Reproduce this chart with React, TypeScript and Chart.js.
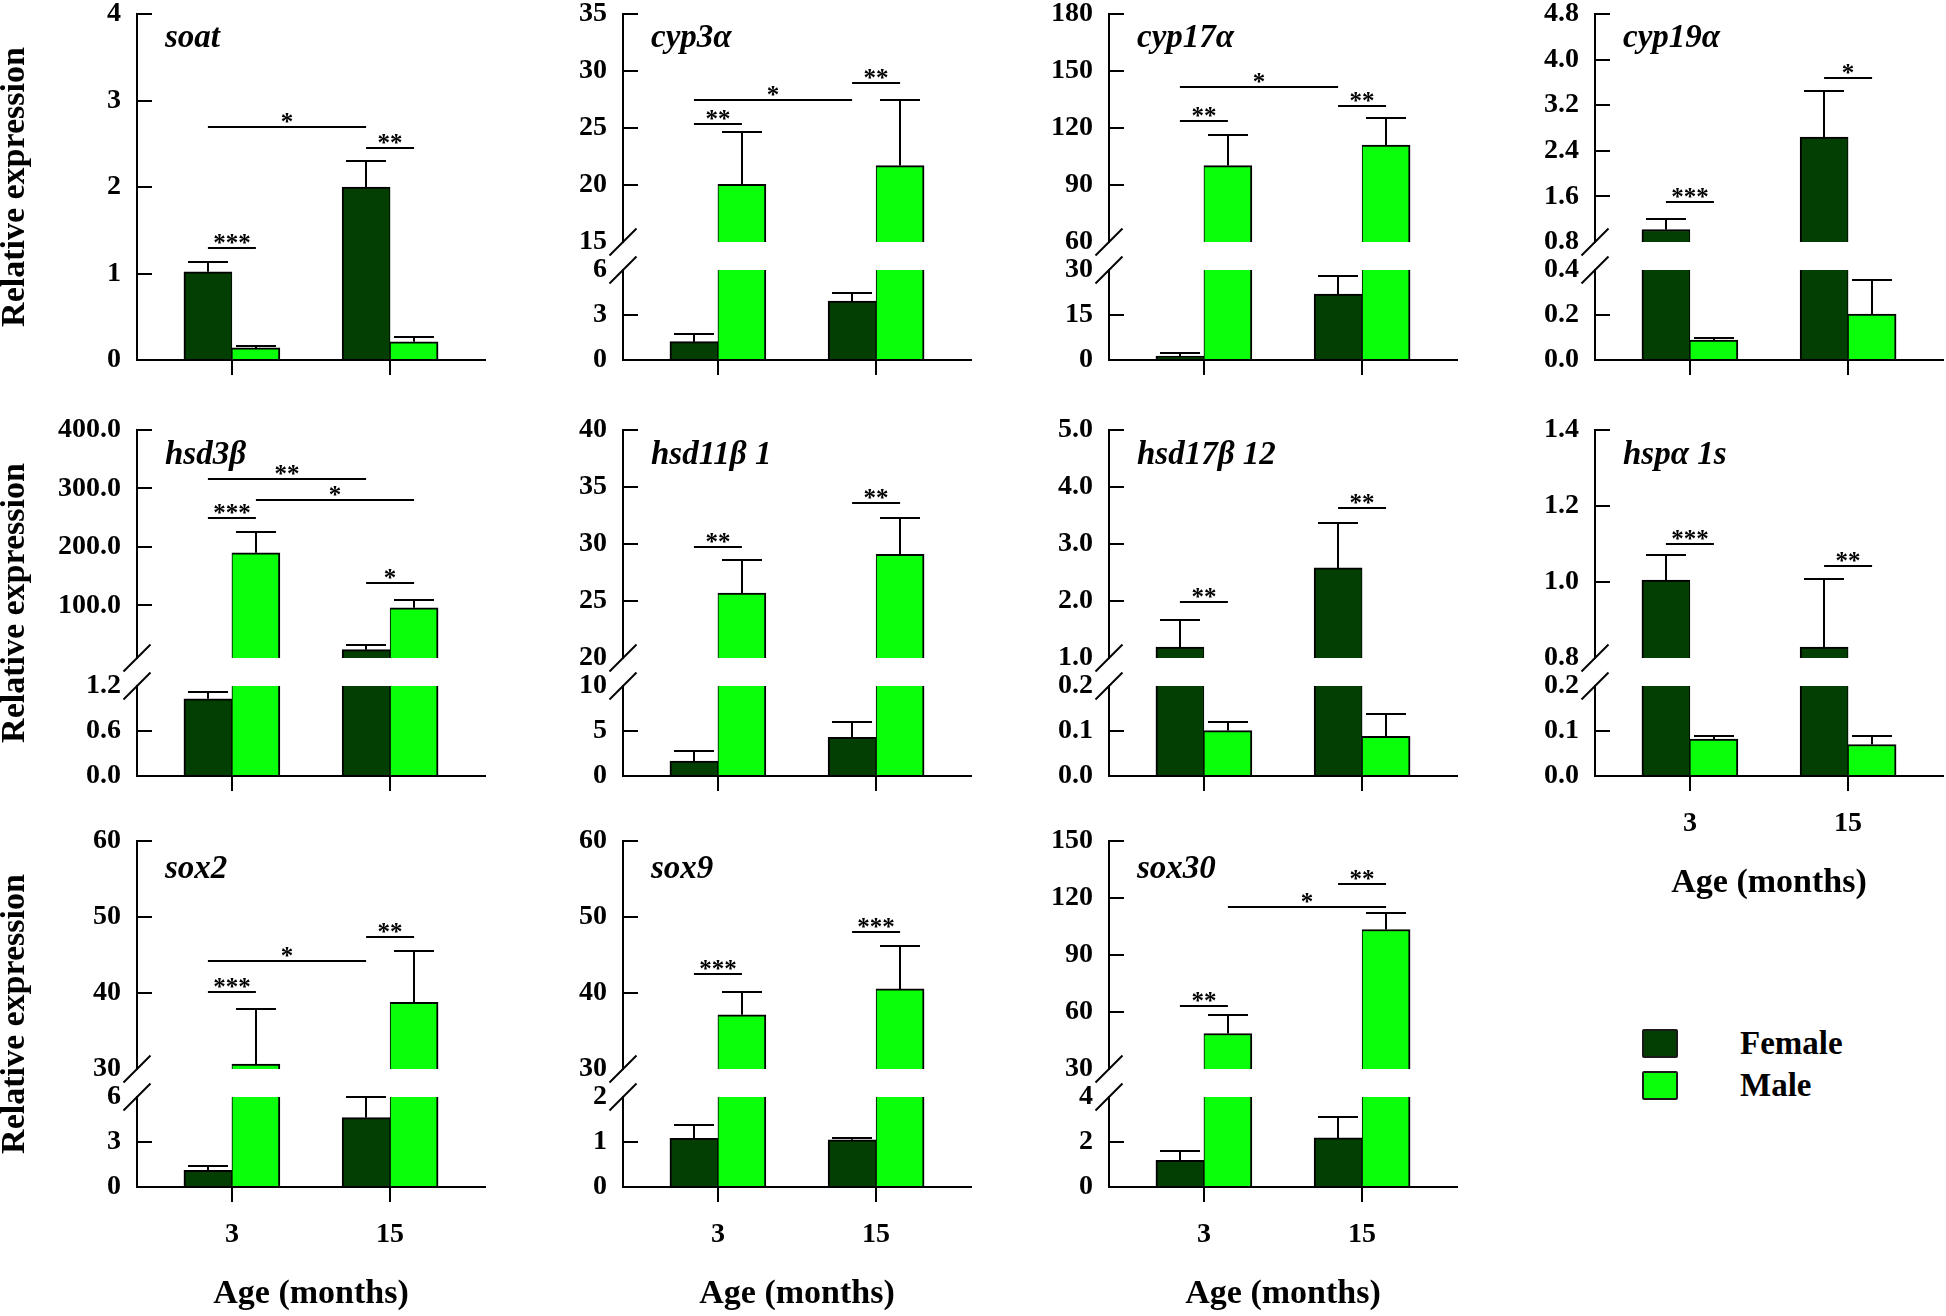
import React, { useEffect, useRef } from 'react';
import { Chart, registerables } from 'chart.js';

Chart.register(...registerables);

const SERIF = "'Liberation Serif', 'Times New Roman', Times, serif";

// ---- categories / series ----
const AGES = ['3', '15'];
const SERIES = ['Female', 'Male'];
const SERIES_COLORS = ['#033f03', '#0aff0a'];
const GENES = ['soat', 'cyp3α', 'cyp17α', 'cyp19α', 'hsd3β', 'hsd11β 1', 'hsd17β 12', 'hspα 1s', 'sox2', 'sox9', 'sox30'];
const Y_TITLE = 'Relative expression';
const X_TITLE = 'Age (months)';

// ---- values: mean per age (3, 15), error (SEM), tick lists, significance marks ----
// significance: [seriesA, ageA, seriesB, ageB, level, label]
const soatFemale = [1.02, 2.0];
const soatFemaleSem = [0.11, 0.3];
const soatMale = [0.14, 0.21];
const soatMaleSem = [0.025, 0.06];
const soatTicks = [0, 1, 2, 3, 4];
const soatSig = [[0, 0, 1, 0, 1.3, '***'], [0, 0, 0, 1, 2.69, '*'], [0, 1, 1, 1, 2.45, '**']];

const cyp3aFemale = [1.22, 3.93];
const cyp3aFemaleSem = [0.49, 0.52];
const cyp3aMale = [20.06, 21.7];
const cyp3aMaleSem = [4.56, 5.8];
const cyp3aLowTicks = [0, 3, 6];
const cyp3aHighTicks = [15, 20, 25, 30, 35];
const cyp3aSig = [[0, 0, 1, 0, 25.35, '**'], [0, 0, 0, 1, 27.46, '*'], [0, 1, 1, 1, 28.95, '**']];

const cyp17aFemale = [1.3, 22.0];
const cyp17aFemaleSem = [0.9, 5.9];
const cyp17aMale = [100.2, 111.0];
const cyp17aMaleSem = [15.9, 14.1];
const cyp17aLowTicks = [0, 15, 30];
const cyp17aHighTicks = [60, 90, 120, 150, 180];
const cyp17aSig = [[0, 0, 1, 0, 123.8, '**'], [0, 0, 0, 1, 141.6, '*'], [0, 1, 1, 1, 131.4, '**']];

const cyp19aFemale = [1.02, 2.64];
const cyp19aFemaleSem = [0.18, 0.81];
const cyp19aMale = [0.089, 0.204];
const cyp19aMaleSem = [0.009, 0.152];
const cyp19aLowTicks = [0, 0.2, 0.4];
const cyp19aHighTicks = [0.8, 1.6, 2.4, 3.2, 4.0, 4.8];
const cyp19aSig = [[0, 0, 1, 0, 1.51, '***'], [0, 1, 1, 1, 3.68, '*']];

const hsd3bFemale = [1.03, 24.2];
const hsd3bFemaleSem = [0.09, 7.8];
const hsd3bMale = [190, 96];
const hsd3bMaleSem = [35.5, 13.7];
const hsd3bLowTicks = [0, 0.6, 1.2];
const hsd3bHighTicks = [100, 200, 300, 400];
const hsd3bHighMin = 10;
const hsd3bSig = [[0, 0, 1, 0, 249, '***'], [0, 0, 0, 1, 316.7, '**'], [1, 0, 1, 1, 280, '*'], [0, 1, 1, 1, 138.8, '*']];

const hsd11b1Female = [1.65, 4.3];
const hsd11b1FemaleSem = [1.1, 1.7];
const hsd11b1Male = [25.7, 29.1];
const hsd11b1MaleSem = [2.9, 3.2];
const hsd11b1LowTicks = [0, 5, 10];
const hsd11b1HighTicks = [20, 25, 30, 35, 40];
const hsd11b1Sig = [[0, 0, 1, 0, 29.77, '**'], [0, 1, 1, 1, 33.6, '**']];

const hsd17b12Female = [1.19, 2.58];
const hsd17b12FemaleSem = [0.47, 0.78];
const hsd17b12Male = [0.101, 0.088];
const hsd17b12MaleSem = [0.02, 0.05];
const hsd17b12LowTicks = [0, 0.1, 0.2];
const hsd17b12HighTicks = [1, 2, 3, 4, 5];
const hsd17b12Sig = [[0, 0, 1, 0, 1.98, '**'], [0, 1, 1, 1, 3.64, '**']];

const hspa1sFemale = [1.005, 0.829];
const hspa1sFemaleSem = [0.065, 0.18];
const hspa1sMale = [0.082, 0.07];
const hspa1sMaleSem = [0.006, 0.018];
const hspa1sLowTicks = [0, 0.1, 0.2];
const hspa1sHighTicks = [0.8, 1.0, 1.2, 1.4];
const hspa1sSig = [[0, 0, 1, 0, 1.1, '***'], [0, 1, 1, 1, 1.043, '**']];

const sox2Female = [1.11, 4.63];
const sox2FemaleSem = [0.27, 1.36];
const sox2Male = [30.65, 38.76];
const sox2MaleSem = [7.25, 6.74];
const sox2LowTicks = [0, 3, 6];
const sox2HighTicks = [30, 40, 50, 60];
const sox2Sig = [[0, 0, 1, 0, 40.07, '***'], [0, 0, 0, 1, 44.16, '*'], [0, 1, 1, 1, 47.4, '**']];

const sox9Female = [1.08, 1.05];
const sox9FemaleSem = [0.3, 0.05];
const sox9Male = [37.14, 40.54];
const sox9MaleSem = [3.02, 5.66];
const sox9LowTicks = [0, 1, 2];
const sox9HighTicks = [30, 40, 50, 60];
const sox9Sig = [[0, 0, 1, 0, 42.55, '***'], [0, 1, 1, 1, 48.0, '***']];

const sox30Female = [1.19, 2.18];
const sox30FemaleSem = [0.4, 0.92];
const sox30Male = [48.7, 103.4];
const sox30MaleSem = [9.7, 8.7];
const sox30LowTicks = [0, 2, 4];
const sox30HighTicks = [30, 60, 90, 120, 150];
const sox30Sig = [[0, 0, 1, 0, 63.1, '**'], [1, 0, 1, 1, 115, '*'], [0, 1, 1, 1, 127.4, '**']];

// ---- layout constants ----
const CELL_W = 486;
const CANVAS_H = 490;
const PAD_TOP = 14;
const PLOT_H = 346;
const Y_AXIS_W = 137;
const X_AXIS_H = CANVAS_H - PAD_TOP - PLOT_H;
const ROW_TOP = [14, 430, 841];
const LABEL_DY = [33, 34, 37];
const BAR_W = 48;
const W_LOW = 90;
const W_GAP = 28;
const W_HIGH = 228;

const PANELS = [
  { gene: GENES[0], row: 0, col: 0, f: soatFemale, fe: soatFemaleSem, m: soatMale, me: soatMaleSem, low: soatTicks, high: null, highMin: null, dec: 0, sig: soatSig, showX: false },
  { gene: GENES[1], row: 0, col: 1, f: cyp3aFemale, fe: cyp3aFemaleSem, m: cyp3aMale, me: cyp3aMaleSem, low: cyp3aLowTicks, high: cyp3aHighTicks, highMin: null, dec: 0, sig: cyp3aSig, showX: false },
  { gene: GENES[2], row: 0, col: 2, f: cyp17aFemale, fe: cyp17aFemaleSem, m: cyp17aMale, me: cyp17aMaleSem, low: cyp17aLowTicks, high: cyp17aHighTicks, highMin: null, dec: 0, sig: cyp17aSig, showX: false },
  { gene: GENES[3], row: 0, col: 3, f: cyp19aFemale, fe: cyp19aFemaleSem, m: cyp19aMale, me: cyp19aMaleSem, low: cyp19aLowTicks, high: cyp19aHighTicks, highMin: null, dec: 1, sig: cyp19aSig, showX: false },
  { gene: GENES[4], row: 1, col: 0, f: hsd3bFemale, fe: hsd3bFemaleSem, m: hsd3bMale, me: hsd3bMaleSem, low: hsd3bLowTicks, high: hsd3bHighTicks, highMin: hsd3bHighMin, dec: 1, sig: hsd3bSig, showX: false },
  { gene: GENES[5], row: 1, col: 1, f: hsd11b1Female, fe: hsd11b1FemaleSem, m: hsd11b1Male, me: hsd11b1MaleSem, low: hsd11b1LowTicks, high: hsd11b1HighTicks, highMin: null, dec: 0, sig: hsd11b1Sig, showX: false },
  { gene: GENES[6], row: 1, col: 2, f: hsd17b12Female, fe: hsd17b12FemaleSem, m: hsd17b12Male, me: hsd17b12MaleSem, low: hsd17b12LowTicks, high: hsd17b12HighTicks, highMin: null, dec: 1, sig: hsd17b12Sig, showX: false },
  { gene: GENES[7], row: 1, col: 3, f: hspa1sFemale, fe: hspa1sFemaleSem, m: hspa1sMale, me: hspa1sMaleSem, low: hspa1sLowTicks, high: hspa1sHighTicks, highMin: null, dec: 1, sig: hspa1sSig, showX: true },
  { gene: GENES[8], row: 2, col: 0, f: sox2Female, fe: sox2FemaleSem, m: sox2Male, me: sox2MaleSem, low: sox2LowTicks, high: sox2HighTicks, highMin: null, dec: 0, sig: sox2Sig, showX: true },
  { gene: GENES[9], row: 2, col: 1, f: sox9Female, fe: sox9FemaleSem, m: sox9Male, me: sox9MaleSem, low: sox9LowTicks, high: sox9HighTicks, highMin: null, dec: 0, sig: sox9Sig, showX: true },
  { gene: GENES[10], row: 2, col: 2, f: sox30Female, fe: sox30FemaleSem, m: sox30Male, me: sox30MaleSem, low: sox30LowTicks, high: sox30HighTicks, highMin: null, dec: 0, sig: sox30Sig, showX: true },
];

function buildConfig(p: any): any {
  const broken = !!p.high;
  const lowMin = p.low[0];
  const lowMax = p.low[p.low.length - 1];
  const highMin = broken ? (p.highMin !== null ? p.highMin : p.high[0]) : 0;
  const highMax = broken ? p.high[p.high.length - 1] : 0;
  const means = [p.f, p.m];
  const sems = [p.fe, p.me];
  const fmt = (v: any) => Number(v).toFixed(p.dec);
  const tickFont = { family: SERIF, size: 28, weight: 'bold', lineHeight: 1 };

  const border = (s: number, cutTop: boolean) => ({
    top: cutTop ? 0 : 2,
    bottom: 0,
    left: s === 0 ? 2 : 1,
    right: s === 0 ? 1 : 2,
  });

  const datasets: any[] = [];
  for (let s = 0; s < 2; s++) {
    datasets.push({
      label: SERIES[s],
      yAxisID: broken ? 'yLow' : 'y',
      stack: 'S' + s,
      data: AGES.map((_, i) => ({
        x: i,
        y: broken ? Math.min(means[s][i], lowMax) : means[s][i],
        cut: broken && means[s][i] > lowMax,
      })),
      backgroundColor: SERIES_COLORS[s],
      borderColor: '#000',
      borderWidth: (c: any) => border(s, !!(c.raw && c.raw.cut)),
      borderSkipped: false,
      barThickness: BAR_W,
    });
  }
  if (broken) {
    for (let s = 0; s < 2; s++) {
      datasets.push({
        label: SERIES[s] + ' (upper)',
        yAxisID: 'yHigh',
        stack: 'S' + s,
        data: AGES.map((_, i) => i)
          .filter((i) => means[s][i] > highMin)
          .map((i) => ({ x: i, y: [highMin, means[s][i]] })),
        backgroundColor: SERIES_COLORS[s],
        borderColor: '#000',
        borderWidth: border(s, false),
        borderSkipped: false,
        barThickness: BAR_W,
      });
    }
  }

  const yAxis = (ticks: number[], min: number, max: number, weight: number, order: number, hide: number | null) => ({
    type: 'linear',
    position: 'left',
    stack: broken ? 'ystack' : undefined,
    stackWeight: weight,
    weight: order,
    min,
    max,
    stacked: false,
    bounds: 'data',
    afterBuildTicks: (sc: any) => {
      sc.ticks = ticks.map((v) => ({ value: v }));
    },
    afterFit: (sc: any) => {
      sc.width = Y_AXIS_W;
      sc.paddingTop = 0;
      sc.paddingBottom = 0;
      sc.paddingLeft = 0;
      sc.paddingRight = 0;
    },
    ticks: { autoSkip: false, padding: 31, color: '#000', font: tickFont, callback: (v: any) => fmt(v) },
    grid: {
      display: true,
      drawOnChartArea: false,
      drawTicks: true,
      tickLength: -15,
      lineWidth: 2,
      color: (c: any) =>
        c.tick && hide !== null && Math.abs(c.tick.value - hide) < 1e-9 ? 'rgba(0,0,0,0)' : '#000',
    },
    border: { display: true, color: '#000', width: 2 },
  });

  const scales: any = {
    x: {
      type: 'linear',
      position: 'bottom',
      min: -0.6,
      max: 1.6,
      offset: false,
      bounds: 'data',
      afterBuildTicks: (sc: any) => {
        sc.ticks = AGES.map((_, i) => ({ value: i }));
      },
      afterFit: (sc: any) => {
        sc.height = X_AXIS_H;
        sc.paddingLeft = 0;
        sc.paddingRight = 0;
        sc.paddingTop = 0;
        sc.paddingBottom = 0;
      },
      ticks: {
        display: p.showX,
        autoSkip: false,
        maxRotation: 0,
        padding: 19,
        color: '#000',
        font: { family: SERIF, size: 28, weight: 'bold', lineHeight: 1 },
        callback: (v: any) => (AGES[v] !== undefined ? AGES[v] : ''),
      },
      grid: { display: true, offset: false, drawOnChartArea: false, drawTicks: true, tickLength: 15, lineWidth: 2, color: '#000' },
      border: { display: true, color: '#000', width: 2 },
    },
  };
  if (broken) {
    scales.yLow = yAxis(p.low, lowMin, lowMax, W_LOW, 1, lowMax);
    scales.yGap = {
      type: 'linear',
      position: 'left',
      stack: 'ystack',
      stackWeight: W_GAP,
      weight: 2,
      min: 0,
      max: 1,
      ticks: { display: false },
      grid: { display: false },
      border: { display: false },
      afterFit: (sc: any) => {
        sc.width = Y_AXIS_W;
        sc.paddingTop = 0;
        sc.paddingBottom = 0;
      },
    };
    scales.yHigh = yAxis(p.high, highMin, highMax, W_HIGH, 3, highMin);
  } else {
    scales.y = yAxis(p.low, lowMin, lowMax, 1, 1, null);
  }

  const decor = {
    id: 'decor',
    afterDatasetsDraw(chart: any) {
      const ctx = chart.ctx;
      const area = chart.chartArea;
      const xs = chart.scales.x;
      // pixel for value v, kept on the axis segment that holds reference value m
      const yp = (v: number, m: number = v) => {
        if (!broken) return chart.scales.y.getPixelForValue(v);
        if (m <= lowMax) return chart.scales.yLow.getPixelForValue(Math.min(v, lowMax));
        return chart.scales.yHigh.getPixelForValue(Math.max(v, highMin));
      };
      const cx = (s: number, i: number) => xs.getPixelForValue(i) + (s === 0 ? -BAR_W / 2 : BAR_W / 2);
      const line = (x1: number, y1: number, x2: number, y2: number) => {
        ctx.beginPath();
        ctx.moveTo(x1, y1);
        ctx.lineTo(x2, y2);
        ctx.stroke();
      };
      ctx.save();
      ctx.strokeStyle = '#000';
      ctx.fillStyle = '#000';
      ctx.lineWidth = 2;
      ctx.lineCap = 'butt';

      // error bars (upper half)
      for (let s = 0; s < 2; s++) {
        for (let i = 0; i < AGES.length; i++) {
          const m = means[s][i];
          const e = sems[s][i];
          const x = Math.round(cx(s, i));
          const y0 = yp(m, m);
          const y1 = Math.round(yp(m + e, m));
          line(x, y0, x, y1);
          line(x - 20, y1, x + 20, y1);
        }
      }

      // significance brackets
      ctx.font = `bold 25px ${SERIF}`;
      ctx.textAlign = 'center';
      ctx.textBaseline = 'alphabetic';
      for (const b of p.sig) {
        const [sa, ia, sb, ib, level, label] = b as any[];
        const y = Math.round(yp(level));
        const xa = cx(sa, ia);
        const xb = cx(sb, ib);
        line(xa, y, xb, y);
        ctx.fillText(label, (xa + xb) / 2, y + 3);
      }

      // axis break marks
      if (broken) {
        const ax = area.left;
        const yb1 = chart.scales.yHigh.bottom;
        const yb2 = chart.scales.yLow.top;
        line(ax - 13.5, yb1 + 13.5, ax + 13.5, yb1 - 13.5);
        line(ax - 13.5, yb2 + 13.5, ax + 13.5, yb2 - 13.5);
      }

      // gene name
      ctx.font = `italic bold 33px ${SERIF}`;
      ctx.textAlign = 'left';
      ctx.fillText(p.gene, area.left + 28, area.top + LABEL_DY[p.row]);

      // axis titles
      ctx.font = `bold 34px ${SERIF}`;
      if (p.col === 0) {
        ctx.save();
        ctx.translate(24, (area.top + area.bottom) / 2);
        ctx.rotate(-Math.PI / 2);
        ctx.textAlign = 'center';
        ctx.fillText(Y_TITLE, 0, 0);
        ctx.restore();
      }
      if (p.showX) {
        ctx.textAlign = 'center';
        ctx.fillText(X_TITLE, (area.left + area.right) / 2, area.bottom + 116);
      }
      ctx.restore();
    },
  };

  return {
    type: 'bar',
    data: { datasets },
    options: {
      responsive: false,
      animation: false,
      devicePixelRatio: 1,
      events: [],
      layout: { padding: { top: PAD_TOP, left: 0, right: 1, bottom: 0 } },
      plugins: { legend: { display: false }, tooltip: { enabled: false }, title: { display: false } },
      scales,
    },
    plugins: [decor],
  };
}

function Panel({ p }: { p: any }) {
  const ref = useRef<HTMLCanvasElement | null>(null);
  useEffect(() => {
    if (!ref.current) return;
    const chart = new Chart(ref.current, buildConfig(p));
    return () => chart.destroy();
  }, [p]);
  return (
    <canvas
      ref={ref}
      width={CELL_W}
      height={CANVAS_H}
      style={{
        position: 'absolute',
        left: p.col * CELL_W,
        top: ROW_TOP[p.row] - PAD_TOP,
        width: CELL_W,
        height: CANVAS_H,
        display: 'block',
      }}
    />
  );
}

function Legend() {
  const items = SERIES.map((name, i) => (
    <React.Fragment key={name}>
      <div
        style={{
          position: 'absolute',
          left: 1642,
          top: 1029 + i * 42,
          width: 36,
          height: 29,
          background: SERIES_COLORS[i],
          border: '2px solid #1a1a1a',
          borderRadius: 2,
          boxSizing: 'border-box',
        }}
      />
      <div
        style={{
          position: 'absolute',
          left: 1740,
          top: 1027 + i * 42,
          font: `bold 33px ${SERIF}`,
          lineHeight: '33px',
          color: '#000',
          whiteSpace: 'nowrap',
        }}
      >
        {name}
      </div>
    </React.Fragment>
  ));
  return <>{items}</>;
}

export default function App() {
  return (
    <div
      style={{
        position: 'absolute',
        left: 0,
        top: 0,
        width: 1946,
        height: 1316,
        background: '#fff',
        overflow: 'hidden',
      }}
    >
      {PANELS.map((p) => (
        <Panel key={p.gene} p={p} />
      ))}
      <Legend />
    </div>
  );
}
